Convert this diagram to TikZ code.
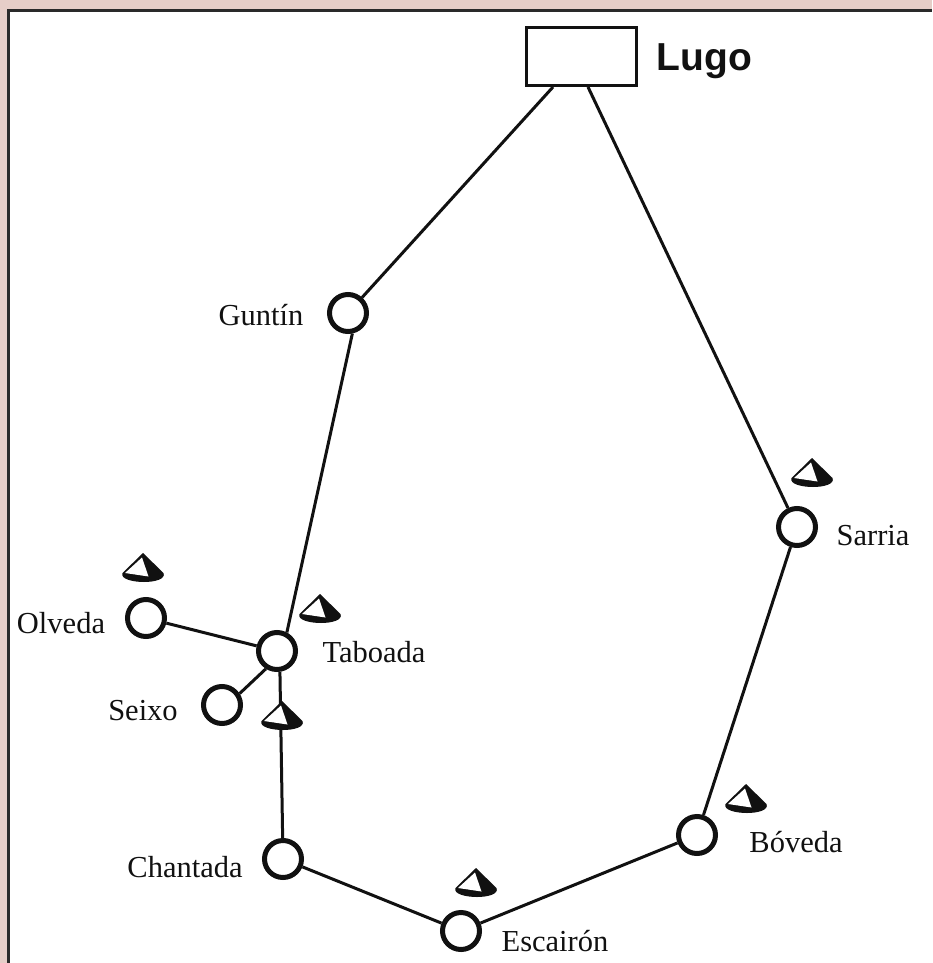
\documentclass[tikz,border=0pt]{standalone}
\usepackage{fontspec}
\setmainfont{Liberation Serif}
\newfontfamily\lugofont{Liberation Sans}
\usepackage{xcolor}
\usetikzlibrary{positioning}
\definecolor{framepink}{HTML}{E6CEC8}
\definecolor{framegray}{HTML}{2A2A2A}
\definecolor{inkblack}{HTML}{111111}
\tikzset{
  town/.style={shape=circle,draw=inkblack,fill=white,line width=5pt,minimum size=37pt,inner sep=0pt},
  townlabel/.style={anchor=base,inner sep=0pt,text=inkblack,font=\fontsize{30.5}{30.5}\selectfont},
  road/.style={draw=inkblack,line width=3pt},
  pics/hill/.style={code={
    \fill [inkblack] (0,0) -- (20.5,20) .. controls (23,26) and (12,29) .. (1,29) .. controls (-10,29) and (-23,26) .. (-20.5,20) -- cycle;
    \fill [white] (-1,4.5) -- (-18,20) -- (5.5,23.5) -- cycle;
  }},
}
\begin{document}
\begin{tikzpicture}[x=1pt,y=-1pt]

\useasboundingbox (0,0) rectangle (932,963);
\fill [framepink] (0,0) rectangle (932,963);
\fill [white] (8.5,10.5) rectangle (932,963);
\draw [framegray,line width=3pt] (8.5,963) -- (8.5,10.5) -- (932,10.5);

% City at the top
\node [shape=rectangle,draw=inkblack,fill=white,line width=3pt,minimum width=110pt,minimum height=58pt,inner sep=0pt] at (581.5,57) (lugo) {};
\node [anchor=base,inner sep=0pt,text=inkblack,font=\lugofont\bfseries\fontsize{39}{39}\selectfont] at (704.5,71) (lugo_label) {Lugo};
\coordinate (lugo_left) at (553,87);
\coordinate (lugo_right) at (588,87);

% Towns
\node [town] at (348,313) (guntin) {};
\node [town] at (277,651) (taboada) {};
\node [town] at (146,618) (olveda) {};
\node [town] at (222,705) (seixo) {};
\node [town] at (283,859) (chantada) {};
\node [town] at (461,931) (escairon) {};
\node [town] at (697,835) (boveda) {};
\node [town] at (797,527) (sarria) {};

\node [townlabel] at (261,325) (guntin_label) {Guntín};
\node [townlabel] at (374,662) (taboada_label) {Taboada};
\node [townlabel] at (61,633) (olveda_label) {Olveda};
\node [townlabel] at (143,720) (seixo_label) {Seixo};
\node [townlabel] at (185,877) (chantada_label) {Chantada};
\node [townlabel] at (555,951) (escairon_label) {Escairón};
\node [townlabel] at (796,852) (boveda_label) {Bóveda};
\node [townlabel] at (873,545) (sarria_label) {Sarria};

% Roads
\draw [road] (lugo_left) -- (guntin);
\draw [road] (lugo_right) -- (sarria);
\draw [road] (guntin.282) -- (taboada.62);
\draw [road] (olveda) -- (taboada);
\draw [road] (seixo.33) -- (taboada.238);
\draw [road] (taboada.278) -- (chantada);
\draw [road] (chantada) -- (escairon);
\draw [road] (escairon) -- (boveda);
\draw [road] (boveda) -- (sarria);

% Hills
\pic at (143,553) {hill};
\pic at (320,594) {hill};
\pic at (282,701) {hill};
\pic at (476,868) {hill};
\pic at (746,784) {hill};
\pic at (812,458) {hill};

\end{tikzpicture}
\end{document}
